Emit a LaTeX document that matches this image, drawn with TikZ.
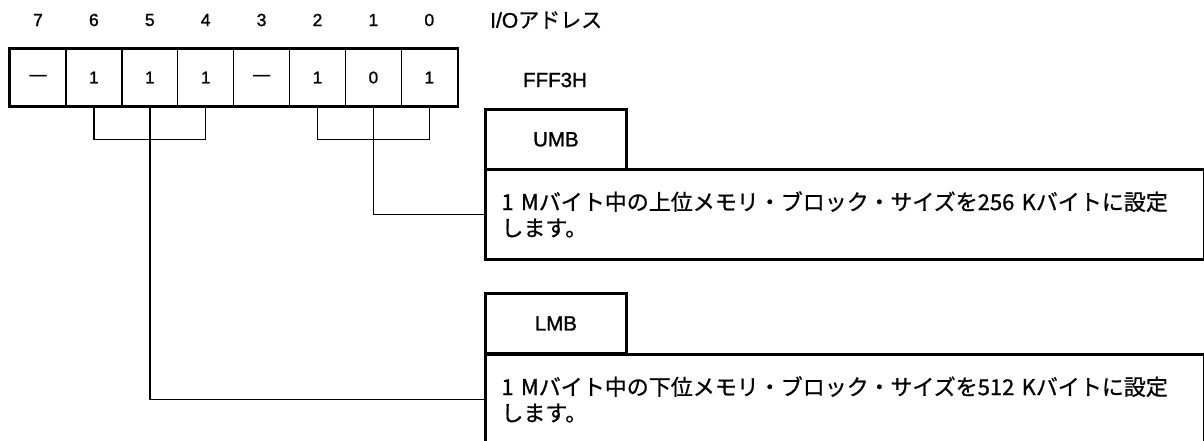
\documentclass[tikz,border=0pt]{standalone}
\usepackage{fontspec}
\setmainfont{Liberation Sans}[FakeBold=1.3]
\newfontfamily\jp{Noto Sans CJK JP}[FakeBold=0.8]
\begin{document}
\begin{tikzpicture}[x=1pt,y=-1pt,
  cell/.style={draw,line width=1.3pt,minimum width=55.9pt,minimum height=57pt,inner sep=0pt,font=\fontsize{17}{19}\selectfont},
  bitnum/.style={inner sep=0pt,font=\fontsize{17.5}{19}\selectfont},
  thickbox/.style={draw,line width=2.8pt},
  tab/.style={thickbox,minimum width=141pt,minimum height=60pt,inner sep=0pt,anchor=north west,font=\fontsize{20.5}{22}\selectfont},
  descbox/.style={thickbox,minimum width=719pt,minimum height=90pt,anchor=north west,text width=687pt,inner xsep=16pt,align=left,font=\jp\fontsize{22}{26}\selectfont},
  wire/.style={line width=1.4pt}]
\useasboundingbox (0,0) rectangle (1204,441);
\clip (0,0) rectangle (1204,441);
% bit numbers
\node[bitnum] (b7) at (38,20) {7};
\node[bitnum] (b6) at (93.9,20) {6};
\node[bitnum] (b5) at (149.8,20) {5};
\node[bitnum] (b4) at (205.7,20) {4};
\node[bitnum] (b3) at (261.6,20) {3};
\node[bitnum] (b2) at (317.5,20) {2};
\node[bitnum] (b1) at (373.4,20) {1};
\node[bitnum] (b0) at (429.3,20) {0};
% cells
\node[cell] (c7) at (38,77.5) {—};
\node[cell] (c6) at (93.9,77.5) {1};
\node[cell] (c5) at (149.8,77.5) {1};
\node[cell] (c4) at (205.7,77.5) {1};
\node[cell] (c3) at (261.6,77.5) {—};
\node[cell] (c2) at (317.5,77.5) {1};
\node[cell] (c1) at (373.4,77.5) {0};
\node[cell] (c0) at (429.3,77.5) {1};
\draw[thickbox] (c7.north west) rectangle (c0.south east);
% labels
\node[anchor=west,inner sep=0pt,font=\fontsize{21}{23}\selectfont] (io) at (490,20) {I/O{\jp アドレス}};
\node[inner sep=0pt,font=\fontsize{20.5}{22}\selectfont] (addr) at (555,80) {FFF3H};
% UMB
\node[tab] (umbtab) at (484,108) {UMB};
\node[descbox] (umb) at (484,168) {1 Mバイト中の上位メモリ・ブロック・サイズを256 Kバイトに設定\\します。};
% LMB
\node[tab] (lmbtab) at (484,292) {LMB};
\node[descbox] (lmb) at (484,353) {1 Mバイト中の下位メモリ・ブロック・サイズを512 Kバイトに設定\\します。};
% brackets and leaders
\draw[wire] (c6.south) -- ++(0,33) -| (c4.south);
\draw[wire] (c2.south) -- ++(0,33) -| (c0.south);
\draw[wire] (c1.south) |- (umb.west);
\draw[wire] (c5.south) |- (lmb.west);
\end{tikzpicture}
\end{document}
